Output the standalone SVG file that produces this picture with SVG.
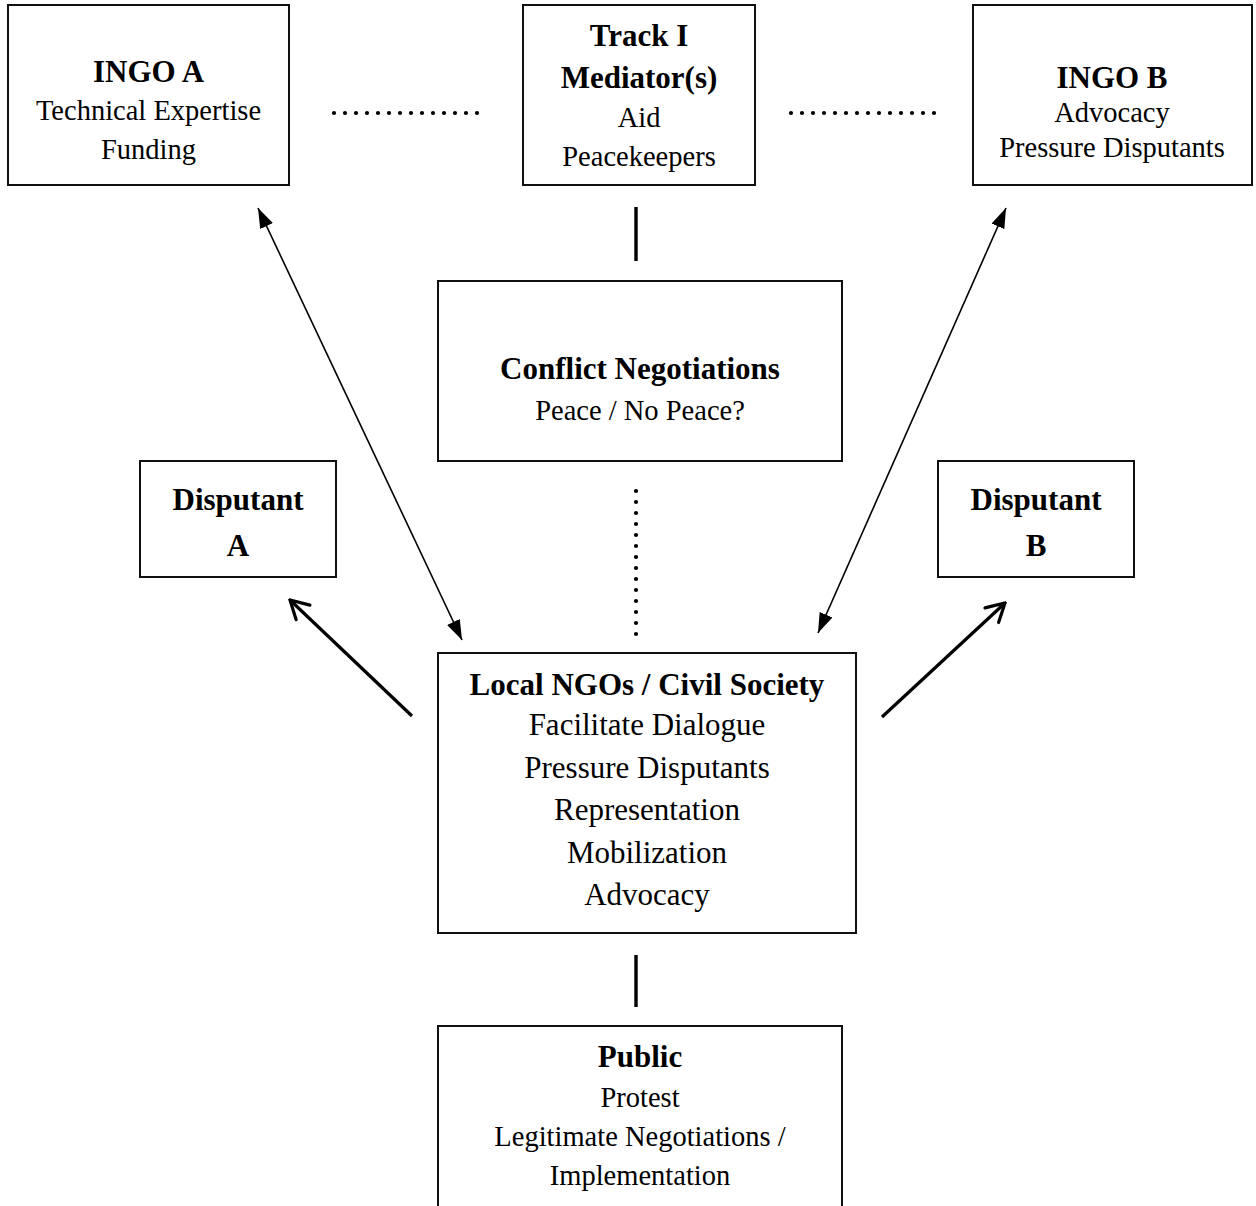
<svg xmlns="http://www.w3.org/2000/svg" width="1256" height="1206" viewBox="0 0 1256 1206">
<style>
.box{fill:#fff;stroke:#111;stroke-width:2}
text{font-family:"Liberation Serif","Times New Roman",serif;fill:#000;text-anchor:middle}
.b{font-weight:bold;font-size:31px}
.r{font-size:28.5px}
.r2{font-size:31px}
.thin{stroke:#000;stroke-width:1.6;fill:none}
.thick{stroke:#000;stroke-width:3.2;fill:none}
.dot{stroke:#000;stroke-width:4.2;stroke-linecap:round;stroke-dasharray:0 11;fill:none}
.solid{stroke:#000;stroke-width:3.4;fill:none}
</style>
<defs>
<marker id="tri" viewBox="0 0 20 14" refX="20" refY="7" markerWidth="20" markerHeight="14" markerUnits="userSpaceOnUse" orient="auto-start-reverse">
<path d="M0,0 L20,7 L0,14 Z" fill="#000"/>
</marker>
<marker id="chev" viewBox="0 0 24 24" refX="22" refY="12" markerWidth="24" markerHeight="24" markerUnits="userSpaceOnUse" orient="auto">
<path d="M4,2 L22,12 L4,22" fill="none" stroke="#000" stroke-width="3.2" stroke-linecap="round" stroke-linejoin="miter"/>
</marker>
</defs>
<g id="connectors">
<path class="dot" d="M334,113 H488"/>
<path class="dot" d="M791,113 H945"/>
<path class="solid" d="M636,207 V261"/>
<path class="dot" d="M636,491 V636"/>
<path class="solid" d="M636,955 V1007"/>
<path class="thin" d="M258,208 L462,640" marker-start="url(#tri)" marker-end="url(#tri)"/>
<path class="thin" d="M1006,208 L818,633" marker-start="url(#tri)" marker-end="url(#tri)"/>
<path class="thick" d="M412,716 L290,600" marker-end="url(#chev)"/>
<path class="thick" d="M882,717 L1005,603" marker-end="url(#chev)"/>
</g>
<g id="ingo-a">
<rect class="box" x="8" y="5" width="281" height="180"/>
<text class="b" x="148.5" y="82">INGO A</text>
<text class="r" x="148.5" y="120">Technical Expertise</text>
<text class="r" x="148.5" y="159">Funding</text>
</g>
<g id="track-i">
<rect class="box" x="523" y="5" width="232" height="180"/>
<text class="b" x="639" y="46">Track I</text>
<text class="b" x="639" y="88">Mediator(s)</text>
<text class="r" x="639" y="127">Aid</text>
<text class="r" x="639" y="166">Peacekeepers</text>
</g>
<g id="ingo-b">
<rect class="box" x="973" y="5" width="279" height="180"/>
<text class="b" x="1112" y="88">INGO B</text>
<text class="r" x="1112" y="122">Advocacy</text>
<text class="r" x="1112" y="157">Pressure Disputants</text>
</g>
<g id="conflict">
<rect class="box" x="438" y="281" width="404" height="180"/>
<text class="b" x="640" y="379">Conflict Negotiations</text>
<text class="r" x="640" y="420">Peace / No Peace?</text>
</g>
<g id="disputant-a">
<rect class="box" x="140" y="461" width="196" height="116"/>
<text class="b" x="238" y="510">Disputant</text>
<text class="b" x="238" y="556">A</text>
</g>
<g id="disputant-b">
<rect class="box" x="938" y="461" width="196" height="116"/>
<text class="b" x="1036" y="510">Disputant</text>
<text class="b" x="1036" y="556">B</text>
</g>
<g id="local-ngos">
<rect class="box" x="438" y="653" width="418" height="280"/>
<text class="b" x="647" y="695">Local NGOs / Civil Society</text>
<text class="r2" x="647" y="735">Facilitate Dialogue</text>
<text class="r2" x="647" y="778">Pressure Disputants</text>
<text class="r2" x="647" y="820">Representation</text>
<text class="r2" x="647" y="863">Mobilization</text>
<text class="r2" x="647" y="905">Advocacy</text>
</g>
<g id="public">
<rect class="box" x="438" y="1026" width="404" height="200"/>
<text class="b" x="640" y="1067">Public</text>
<text class="r" x="640" y="1107">Protest</text>
<text class="r" x="640" y="1146">Legitimate Negotiations /</text>
<text class="r" x="640" y="1185">Implementation</text>
</g>
</svg>
